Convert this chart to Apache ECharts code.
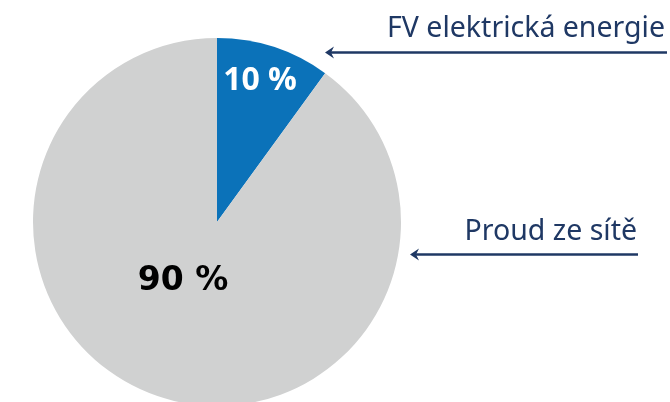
<!DOCTYPE html>
<html>
<head>
<meta charset="utf-8">
<script src="https://cdn.jsdelivr.net/npm/echarts@6/dist/echarts.min.js"></script>
<style>
html,body{margin:0;padding:0;background:#fff;}
#c{width:670px;height:402px;}
</style>
</head>
<body>
<div id="c"></div>
<script>
var categories = ['FV elektrická energie', 'Proud ze sítě'];
var shares = [10, 90];
var sliceColors = ['#0b72b9', '#d0d1d1'];

var chart = echarts.init(document.getElementById('c'), null, {renderer: 'canvas'});
var cx = 217, cy = 222, R = 184;
var navy = '#1f3864';

// label placement: fraction of radius and angle offset (deg) relative to slice mid-angle
var labelPlace = [
  {rf: 0.80, da: -1},
  {rf: 0.37, da: 12}
];
var labelFonts = [
  {fontFamily: 'Open Sans', fontSize: 32, color: '#ffffff'},
  {fontFamily: 'DejaVu Sans', fontSize: 33, color: '#000000'}
];

function midAngle(i) {
  var total = shares.reduce(function (a, b) { return a + b; }, 0);
  var acc = 0;
  for (var k = 0; k < i; k++) acc += shares[k];
  return (acc + shares[i] / 2) / total * 360; // clockwise from top
}

var data = categories.map(function (name, i) {
  return {
    name: name,
    value: shares[i],
    itemStyle: {color: sliceColors[i]},
    label: {
      fontFamily: labelFonts[i].fontFamily,
      fontSize: labelFonts[i].fontSize,
      fontWeight: 'bold',
      color: labelFonts[i].color
    }
  };
});

function arrow(tipX, y, endX) {
  return [
    {type: 'line', shape: {x1: tipX + 4, y1: y, x2: endX, y2: y},
     style: {stroke: navy, lineWidth: 2.4}},
    {type: 'polygon', shape: {points: [[tipX, y], [tipX + 9, y - 6], [tipX + 6, y], [tipX + 9, y + 6]]},
     style: {fill: navy}}
  ];
}

var option = {
  animation: false,
  backgroundColor: '#ffffff',
  series: [{
    type: 'pie',
    center: [cx, cy],
    radius: [0, R],
    startAngle: 90,
    clockwise: true,
    silent: true,
    data: data,
    label: {
      show: true,
      position: 'inside',
      formatter: '{c} %'
    },
    labelLine: {show: false},
    labelLayout: function (p) {
      var i = p.dataIndex;
      var a = (midAngle(i) + labelPlace[i].da) * Math.PI / 180;
      var r = R * labelPlace[i].rf;
      return {x: cx + r * Math.sin(a), y: cy - r * Math.cos(a), align: 'center', verticalAlign: 'middle'};
    }
  }],
  graphic: [
    {type: 'text', x: 665, y: 29,
     style: {text: categories[0], fill: navy, font: '28.5px "Noto Sans"', align: 'right', verticalAlign: 'middle'}},
    {type: 'text', x: 637, y: 232,
     style: {text: categories[1], fill: navy, font: '28.5px "Noto Sans"', align: 'right', verticalAlign: 'middle'}}
  ].concat(arrow(325, 52.5, 667)).concat(arrow(410, 254.5, 638))
};
chart.setOption(option);
</script>
</body>
</html>
